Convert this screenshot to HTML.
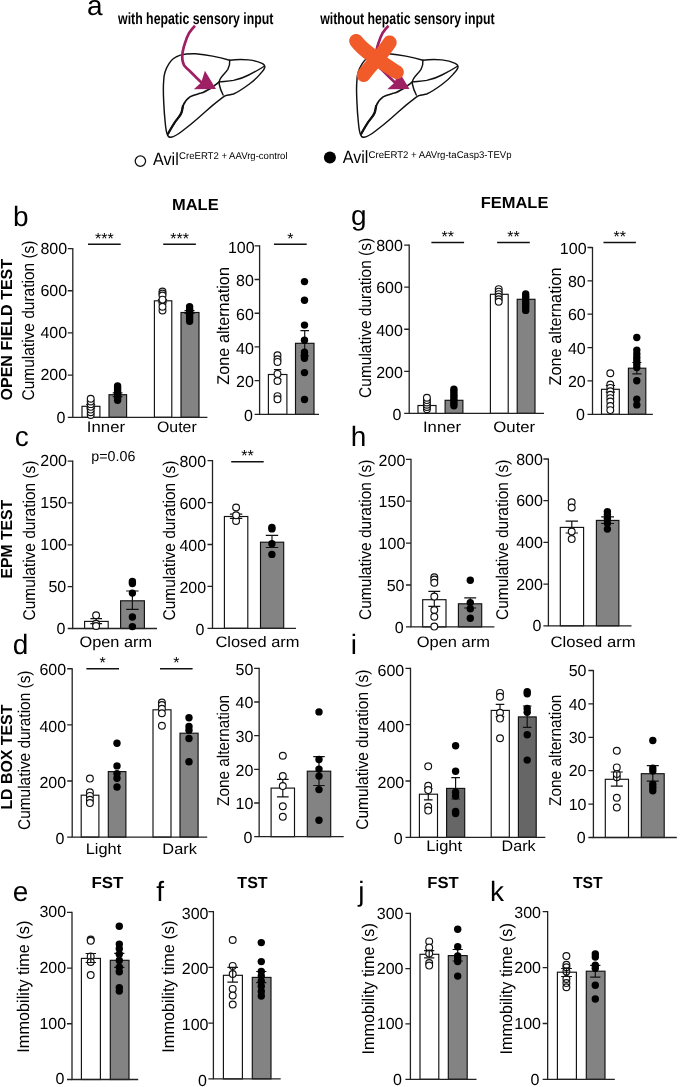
<!DOCTYPE html>
<html lang="en"><head><meta charset="utf-8"><title>Figure</title>
<style>html,body{margin:0;padding:0;background:#fff}svg{display:block}</style></head>
<body>
<svg width="685" height="1087" viewBox="0 0 685 1087" font-family="'Liberation Sans', sans-serif" fill="#000" text-rendering="geometricPrecision">
<rect width="685" height="1087" fill="#fff"/>
<g transform="translate(0 0)" fill="none" stroke="#111" stroke-width="1.45" stroke-linecap="round" stroke-linejoin="round">
<path d="M180.4 55.1C174 57 171 60 169 63.7C165 70 163.7 76 163.7 80.7C163 88 163.4 95 163.7 101.6C164 109 164.5 116 165.2 122.5C165.6 127 166 131 167.1 133.9C168 136.5 169.3 137.5 170.9 137.3C175 136.5 178.5 134 182.3 131C187.5 127 192.5 123 197.4 118.7C202.5 114.3 207.5 109.8 212.6 105.4C216.8 102 221 98.6 225 95.9C228 94.6 231 94.8 233.5 94C239 91.5 244 88 248.7 84.5C253 81.3 257 77.7 260.1 74.1C262.5 71.5 264.5 69 264.8 67.4C265 65.5 264 64.2 262 63.3C257.8 61.5 253.5 60.5 248.7 59.9C242.5 59.3 236 59.4 229.7 60.2C224 58.6 218.3 57.2 212.6 56.1C207 55 201 54.2 195.5 53.8C190.3 53.6 185 54 180.4 55.1Z"/>
<path d="M229.7 60.2C230 63.5 229.3 66.5 227.8 69.3C225.6 72.8 222 75.5 220.2 78.8C219 80.8 218.8 82.6 219.3 84.5C220 88.3 221.5 92 223.1 95"/>
<path d="M219.3 81.9C224 81.4 229 81.2 233.5 80.4C238.7 79.3 244 77.5 248.7 75C254.2 72.3 259.5 69.3 263.9 66.5"/>
<path d="M168 134C170 130 172.5 126 174.7 122.5C177 119 180 116.5 181.3 113C182.5 110.3 182.3 107.5 183.2 105.4C184.5 101.8 187 99 189.9 96.9C193 94.8 197.5 94.2 201.2 93.1C204.6 91.9 207.8 90 210.7 88.3C213.7 86.3 216.5 84 219.3 81.9" stroke-width="1.6"/>
<path d="M168.2 133.6C170 130 172.5 126 174.7 122.5C177 119 180 116.5 181.3 113C182.3 110.5 182.4 108 183 105.8" stroke-width="2.3"/>
</g>
<g transform="translate(0 0)">
<path d="M195 25.7C192.5 28.2 190.5 30.8 188.9 33.3C187.2 36.4 186 39.6 185.1 42.8C184 46 183.1 49.2 182.6 52.3C182.2 55 182.1 57.5 182.4 59.9C182.7 62 183.3 63.9 184.2 65.5C185.8 67.6 187.8 69.4 190 71.3L197 78.3L202.5 83.5" fill="none" stroke="#9e1f63" stroke-width="2.7" stroke-linecap="butt" stroke-linejoin="round"/>
<path d="M216 88.9L204.9 70.7L201.2 82.4L193.8 89.2Z" fill="#9e1f63"/>
</g>
<g transform="translate(193.2 0)" fill="none" stroke="#111" stroke-width="1.45" stroke-linecap="round" stroke-linejoin="round">
<path d="M180.4 55.1C174 57 171 60 169 63.7C165 70 163.7 76 163.7 80.7C163 88 163.4 95 163.7 101.6C164 109 164.5 116 165.2 122.5C165.6 127 166 131 167.1 133.9C168 136.5 169.3 137.5 170.9 137.3C175 136.5 178.5 134 182.3 131C187.5 127 192.5 123 197.4 118.7C202.5 114.3 207.5 109.8 212.6 105.4C216.8 102 221 98.6 225 95.9C228 94.6 231 94.8 233.5 94C239 91.5 244 88 248.7 84.5C253 81.3 257 77.7 260.1 74.1C262.5 71.5 264.5 69 264.8 67.4C265 65.5 264 64.2 262 63.3C257.8 61.5 253.5 60.5 248.7 59.9C242.5 59.3 236 59.4 229.7 60.2C224 58.6 218.3 57.2 212.6 56.1C207 55 201 54.2 195.5 53.8C190.3 53.6 185 54 180.4 55.1Z"/>
<path d="M229.7 60.2C230 63.5 229.3 66.5 227.8 69.3C225.6 72.8 222 75.5 220.2 78.8C219 80.8 218.8 82.6 219.3 84.5C220 88.3 221.5 92 223.1 95"/>
<path d="M219.3 81.9C224 81.4 229 81.2 233.5 80.4C238.7 79.3 244 77.5 248.7 75C254.2 72.3 259.5 69.3 263.9 66.5"/>
<path d="M168 134C170 130 172.5 126 174.7 122.5C177 119 180 116.5 181.3 113C182.5 110.3 182.3 107.5 183.2 105.4C184.5 101.8 187 99 189.9 96.9C193 94.8 197.5 94.2 201.2 93.1C204.6 91.9 207.8 90 210.7 88.3C213.7 86.3 216.5 84 219.3 81.9" stroke-width="1.6"/>
<path d="M168.2 133.6C170 130 172.5 126 174.7 122.5C177 119 180 116.5 181.3 113C182.3 110.5 182.4 108 183 105.8" stroke-width="2.3"/>
</g>
<g transform="translate(193.5 0)">
<path d="M195 25.7C192.5 28.2 190.5 30.8 188.9 33.3C187.2 36.4 186 39.6 185.1 42.8C184 46 183.1 49.2 182.6 52.3C182.2 55 182.1 57.5 182.4 59.9C182.7 62 183.3 63.9 184.2 65.5C185.8 67.6 187.8 69.4 190 71.3L197 78.3L202.5 83.5" fill="none" stroke="#9e1f63" stroke-width="2.7" stroke-linecap="butt" stroke-linejoin="round"/>
<path d="M216 88.9L204.9 70.7L201.2 82.4L193.8 89.2Z" fill="#9e1f63"/>
</g>
<path d="M356.1 40.9C364 52 384 64 396.9 72.2M389.7 42.4C381 56 370 66 363.7 75" fill="none" stroke="#f15a29" stroke-width="14" stroke-linecap="round"/>
<text x="86.9" y="14.8" font-size="28">a</text>
<text x="118.06" y="23.9" font-size="16.3" font-weight="bold" textLength="155.4" lengthAdjust="spacingAndGlyphs">with hepatic sensory input</text>
<text x="320.26" y="23.9" font-size="16.3" font-weight="bold" textLength="174.4" lengthAdjust="spacingAndGlyphs">without hepatic sensory input</text>
<circle cx="140.4" cy="161.1" r="5.2" fill="#fff" stroke="#111" stroke-width="1.3"/>
<text x="153.1" y="164.9" font-size="17.7" textLength="25.7" lengthAdjust="spacingAndGlyphs">Avil</text>
<text x="179.12" y="159.4" font-size="9.8" textLength="108.42" lengthAdjust="spacingAndGlyphs">CreERT2 + AAVrg-control</text>
<circle cx="329.9" cy="157.6" r="6" fill="#000"/>
<text x="342.8" y="163.4" font-size="17.7" textLength="25.6" lengthAdjust="spacingAndGlyphs">Avil</text>
<text x="368.52" y="158.2" font-size="9.8" textLength="143.06" lengthAdjust="spacingAndGlyphs">CreERT2 + AAVrg-taCasp3-TEVp</text>
<text x="172.03" y="209.6" font-size="16" font-weight="bold" textLength="46.6" lengthAdjust="spacingAndGlyphs">MALE</text>
<text x="480.73" y="207.7" font-size="16" font-weight="bold" textLength="67.66" lengthAdjust="spacingAndGlyphs">FEMALE</text>
<text x="13.1" y="225.5" font-size="28">b</text>
<text x="14.7" y="446" font-size="28">c</text>
<text x="12.8" y="653.8" font-size="28">d</text>
<text x="12.7" y="900.8" font-size="28">e</text>
<text x="156.3" y="900.8" font-size="28">f</text>
<text x="350.9" y="225.2" font-size="28">g</text>
<text x="350.7" y="446" font-size="28">h</text>
<text x="350.7" y="653.6" font-size="28">i</text>
<text x="358.2" y="900.5" font-size="28">j</text>
<text x="490" y="900.7" font-size="28">k</text>
<text x="12.2" y="329.7" font-size="16" text-anchor="middle" transform="rotate(-90 12.2 329.7)" textLength="141.6" lengthAdjust="spacingAndGlyphs" font-weight="bold">OPEN FIELD TEST</text>
<text x="12.2" y="539.25" font-size="16" text-anchor="middle" transform="rotate(-90 12.2 539.25)" textLength="78.7" lengthAdjust="spacingAndGlyphs" font-weight="bold">EPM TEST</text>
<text x="12.5" y="757.1" font-size="16" text-anchor="middle" transform="rotate(-90 12.5 757.1)" textLength="105" lengthAdjust="spacingAndGlyphs" font-weight="bold">LD BOX TEST</text>
<rect x="82" y="406.3" width="17.9" height="11" fill="#fff" stroke="#111" stroke-width="1.15"/>
<rect x="109" y="394.7" width="17.6" height="22.6" fill="#838383" stroke="#111" stroke-width="1.15"/>
<rect x="154.4" y="300.8" width="17.4" height="116.5" fill="#fff" stroke="#111" stroke-width="1.15"/>
<rect x="181" y="312.5" width="18" height="104.8" fill="#838383" stroke="#111" stroke-width="1.15"/>
<path d="M90.7 404.5V408M86.2 404.5H95.2M86.2 408H95.2" stroke="#111" stroke-width="1.2" fill="none"/>
<path d="M117.6 392.8V396.6M112.75 392.8H122.45M112.75 396.6H122.45" stroke="#111" stroke-width="1.2" fill="none"/>
<path d="M162.5 299.5V302M157.9 299.5H167.1M157.9 302H167.1" stroke="#111" stroke-width="1.2" fill="none"/>
<path d="M189.5 310.7V313.5M184.5 310.7H194.5M184.5 313.5H194.5" stroke="#111" stroke-width="1.2" fill="none"/>
<path d="M72.8 248V417.3H207.4" stroke="#222" stroke-width="1.3" fill="none"/>
<text x="67.1" y="253.8" font-size="16" text-anchor="end">800</text>
<text x="67.1" y="295.97" font-size="16" text-anchor="end">600</text>
<text x="67.1" y="338.15" font-size="16" text-anchor="end">400</text>
<text x="67.1" y="380.32" font-size="16" text-anchor="end">200</text>
<text x="65.5" y="422.5" font-size="16" text-anchor="end">0</text>
<path d="M67.8 248.6H72.8M67.8 290.77H72.8M67.8 332.95H72.8M67.8 375.12H72.8M67.8 417.3H72.8" stroke="#222" stroke-width="1.3" fill="none"/>
<circle cx="90.7" cy="415" r="3.4" fill="#fff" stroke="#111" stroke-width="1.15"/>
<circle cx="90.7" cy="412.28" r="3.4" fill="#fff" stroke="#111" stroke-width="1.15"/>
<circle cx="90.7" cy="409.57" r="3.4" fill="#fff" stroke="#111" stroke-width="1.15"/>
<circle cx="90.7" cy="406.85" r="3.4" fill="#fff" stroke="#111" stroke-width="1.15"/>
<circle cx="90.7" cy="404.13" r="3.4" fill="#fff" stroke="#111" stroke-width="1.15"/>
<circle cx="90.7" cy="401.42" r="3.4" fill="#fff" stroke="#111" stroke-width="1.15"/>
<circle cx="90.7" cy="398.7" r="3.4" fill="#fff" stroke="#111" stroke-width="1.15"/>
<circle cx="162.5" cy="291.5" r="3.4" fill="#fff" stroke="#111" stroke-width="1.15"/>
<circle cx="162.5" cy="293.5" r="3.4" fill="#fff" stroke="#111" stroke-width="1.15"/>
<circle cx="162.5" cy="295.5" r="3.4" fill="#fff" stroke="#111" stroke-width="1.15"/>
<circle cx="162.5" cy="310.5" r="3.4" fill="#fff" stroke="#111" stroke-width="1.15"/>
<circle cx="162.5" cy="303" r="3.4" fill="#fff" stroke="#111" stroke-width="1.15"/>
<circle cx="162.5" cy="306.8" r="3.4" fill="#fff" stroke="#111" stroke-width="1.15"/>
<circle cx="162.5" cy="299.6" r="3.4" fill="#fff" stroke="#111" stroke-width="1.15"/>
<circle cx="117.6" cy="386" r="3.7" fill="#000"/>
<circle cx="117.6" cy="388.03" r="3.7" fill="#000"/>
<circle cx="117.6" cy="390.06" r="3.7" fill="#000"/>
<circle cx="117.6" cy="392.09" r="3.7" fill="#000"/>
<circle cx="117.6" cy="394.11" r="3.7" fill="#000"/>
<circle cx="117.6" cy="396.14" r="3.7" fill="#000"/>
<circle cx="117.6" cy="398.17" r="3.7" fill="#000"/>
<circle cx="117.6" cy="400.2" r="3.7" fill="#000"/>
<circle cx="189.6" cy="306.6" r="3.7" fill="#000"/>
<circle cx="189.6" cy="308.69" r="3.7" fill="#000"/>
<circle cx="189.6" cy="310.77" r="3.7" fill="#000"/>
<circle cx="189.6" cy="312.86" r="3.7" fill="#000"/>
<circle cx="189.6" cy="314.94" r="3.7" fill="#000"/>
<circle cx="189.6" cy="317.03" r="3.7" fill="#000"/>
<circle cx="189.6" cy="319.11" r="3.7" fill="#000"/>
<circle cx="189.6" cy="321.2" r="3.7" fill="#000"/>
<path d="M88 244.2H120.7" stroke="#111" stroke-width="1.5"/>
<text x="104.35" y="243.6" font-size="16" text-anchor="middle">***</text>
<path d="M163.2 244.2H195.9" stroke="#111" stroke-width="1.5"/>
<text x="179.55" y="243.6" font-size="16" text-anchor="middle">***</text>
<text x="34.1" y="320.5" font-size="17" text-anchor="middle" transform="rotate(-90 34.1 320.5)" textLength="160" lengthAdjust="spacingAndGlyphs">Cumulative duration (s)</text>
<text x="86.89" y="432" font-size="15.2" textLength="38.15" lengthAdjust="spacingAndGlyphs">Inner</text>
<text x="156.99" y="432" font-size="15.2" textLength="39.69" lengthAdjust="spacingAndGlyphs">Outer</text>
<rect x="268.4" y="374.5" width="18.5" height="39.9" fill="#fff" stroke="#111" stroke-width="1.15"/>
<rect x="295.5" y="343.3" width="18.5" height="71.1" fill="#838383" stroke="#111" stroke-width="1.15"/>
<path d="M277.6 369.6V379.4M273.9 369.6H281.3M273.9 379.4H281.3" stroke="#111" stroke-width="1.2" fill="none"/>
<path d="M304.7 330.6V356M300.4 330.6H309M300.4 356H309" stroke="#111" stroke-width="1.2" fill="none"/>
<path d="M259.6 245.2V414.4H319" stroke="#222" stroke-width="1.3" fill="none"/>
<text x="254.6" y="252.6" font-size="16" text-anchor="end">100</text>
<text x="253.8" y="286.32" font-size="16" text-anchor="end">80</text>
<text x="253.8" y="320.04" font-size="16" text-anchor="end">60</text>
<text x="253.8" y="353.76" font-size="16" text-anchor="end">40</text>
<text x="253.8" y="387.48" font-size="16" text-anchor="end">20</text>
<text x="253" y="421.2" font-size="16" text-anchor="end">0</text>
<path d="M254.6 245.8H259.6M254.6 279.52H259.6M254.6 313.24H259.6M254.6 346.96H259.6M254.6 380.68H259.6M254.6 414.4H259.6" stroke="#222" stroke-width="1.3" fill="none"/>
<circle cx="277.5" cy="355.3" r="3.4" fill="#fff" stroke="#111" stroke-width="1.15"/>
<circle cx="277.5" cy="359.3" r="3.4" fill="#fff" stroke="#111" stroke-width="1.15"/>
<circle cx="277.5" cy="361.9" r="3.4" fill="#fff" stroke="#111" stroke-width="1.15"/>
<circle cx="277.5" cy="373.9" r="3.4" fill="#fff" stroke="#111" stroke-width="1.15"/>
<circle cx="277.5" cy="381" r="3.4" fill="#fff" stroke="#111" stroke-width="1.15"/>
<circle cx="277.5" cy="396.1" r="3.4" fill="#fff" stroke="#111" stroke-width="1.15"/>
<circle cx="277.5" cy="399.2" r="3.4" fill="#fff" stroke="#111" stroke-width="1.15"/>
<circle cx="304.5" cy="281.6" r="3.7" fill="#000"/>
<circle cx="304.5" cy="300.2" r="3.7" fill="#000"/>
<circle cx="304.5" cy="325.1" r="3.7" fill="#000"/>
<circle cx="304.5" cy="340.2" r="3.7" fill="#000"/>
<circle cx="304.5" cy="352.2" r="3.7" fill="#000"/>
<circle cx="304.5" cy="355.3" r="3.7" fill="#000"/>
<circle cx="304.5" cy="358.3" r="3.7" fill="#000"/>
<circle cx="304.5" cy="372.6" r="3.7" fill="#000"/>
<circle cx="304.5" cy="399.5" r="3.7" fill="#000"/>
<path d="M274 244.2H306.7" stroke="#111" stroke-width="1.5"/>
<text x="290.35" y="243.6" font-size="16" text-anchor="middle">*</text>
<text x="229.1" y="325.85" font-size="17" text-anchor="middle" transform="rotate(-90 229.1 325.85)" textLength="117.7" lengthAdjust="spacingAndGlyphs">Zone alternation</text>
<rect x="84.6" y="621.4" width="23.6" height="7.1" fill="#fff" stroke="#111" stroke-width="1.15"/>
<rect x="120.6" y="600.8" width="23.8" height="27.7" fill="#838383" stroke="#111" stroke-width="1.15"/>
<path d="M96.2 618.7V623.6M90.35 618.7H102.05M90.35 623.6H102.05" stroke="#111" stroke-width="1.2" fill="none"/>
<path d="M132.4 591V609.3M126.2 591H138.6M126.2 609.3H138.6" stroke="#111" stroke-width="1.2" fill="none"/>
<path d="M72.7 460.5V628.5H157" stroke="#222" stroke-width="1.3" fill="none"/>
<text x="67" y="466.3" font-size="16" text-anchor="end">200</text>
<text x="67" y="508.15" font-size="16" text-anchor="end">150</text>
<text x="67" y="550" font-size="16" text-anchor="end">100</text>
<text x="66.2" y="591.85" font-size="16" text-anchor="end">50</text>
<text x="65.4" y="633.7" font-size="16" text-anchor="end">0</text>
<path d="M67.7 461.1H72.7M67.7 502.95H72.7M67.7 544.8H72.7M67.7 586.65H72.7M67.7 628.5H72.7" stroke="#222" stroke-width="1.3" fill="none"/>
<circle cx="96.1" cy="615.2" r="3.4" fill="#fff" stroke="#111" stroke-width="1.15"/>
<circle cx="96.1" cy="623.7" r="3.4" fill="#fff" stroke="#111" stroke-width="1.15"/>
<circle cx="96.1" cy="626" r="3.4" fill="#fff" stroke="#111" stroke-width="1.15"/>
<circle cx="132.4" cy="581.5" r="3.7" fill="#000"/>
<circle cx="132.4" cy="583.5" r="3.7" fill="#000"/>
<circle cx="132.4" cy="593.1" r="3.7" fill="#000"/>
<circle cx="132.4" cy="617" r="3.7" fill="#000"/>
<circle cx="132.4" cy="626.6" r="3.7" fill="#000"/>
<text x="34.5" y="540.5" font-size="17" text-anchor="middle" transform="rotate(-90 34.5 540.5)" textLength="160" lengthAdjust="spacingAndGlyphs">Cumulative duration (s)</text>
<text x="79.47" y="647.2" font-size="15.2" textLength="72.54" lengthAdjust="spacingAndGlyphs">Open arm</text>
<text x="91.37" y="461.2" font-size="14.2" textLength="44.02" lengthAdjust="spacingAndGlyphs">p=0.06</text>
<rect x="224.4" y="516.5" width="23.4" height="111.8" fill="#fff" stroke="#111" stroke-width="1.15"/>
<rect x="260.5" y="542.2" width="23.2" height="86.1" fill="#838383" stroke="#111" stroke-width="1.15"/>
<path d="M236.1 514.2V518.4M229.9 514.2H242.3M229.9 518.4H242.3" stroke="#111" stroke-width="1.2" fill="none"/>
<path d="M272 535.3V547.5M265.8 535.3H278.2M265.8 547.5H278.2" stroke="#111" stroke-width="1.2" fill="none"/>
<path d="M212.5 460.1V628.3H296" stroke="#222" stroke-width="1.3" fill="none"/>
<text x="206.1" y="467.4" font-size="16" text-anchor="end">800</text>
<text x="206.1" y="509.3" font-size="16" text-anchor="end">600</text>
<text x="206.1" y="551.2" font-size="16" text-anchor="end">400</text>
<text x="206.1" y="593.1" font-size="16" text-anchor="end">200</text>
<text x="204.5" y="635" font-size="16" text-anchor="end">0</text>
<path d="M207.5 460.7H212.5M207.5 502.6H212.5M207.5 544.5H212.5M207.5 586.4H212.5M207.5 628.3H212.5" stroke="#222" stroke-width="1.3" fill="none"/>
<circle cx="236.1" cy="507.5" r="3.4" fill="#fff" stroke="#111" stroke-width="1.15"/>
<circle cx="236.1" cy="521" r="3.4" fill="#fff" stroke="#111" stroke-width="1.15"/>
<circle cx="236.1" cy="515.2" r="3.4" fill="#fff" stroke="#111" stroke-width="1.15"/>
<circle cx="271.9" cy="527.4" r="3.7" fill="#000"/>
<circle cx="271.9" cy="528.9" r="3.7" fill="#000"/>
<circle cx="271.9" cy="543.7" r="3.7" fill="#000"/>
<circle cx="271.9" cy="554.4" r="3.7" fill="#000"/>
<path d="M231.2 461.8H263.7" stroke="#111" stroke-width="1.5"/>
<text x="247.45" y="461.2" font-size="16" text-anchor="middle">**</text>
<text x="175" y="540.5" font-size="17" text-anchor="middle" transform="rotate(-90 175 540.5)" textLength="160" lengthAdjust="spacingAndGlyphs">Cumulative duration (s)</text>
<text x="215.48" y="647.2" font-size="15.2" textLength="83.95" lengthAdjust="spacingAndGlyphs">Closed arm</text>
<rect x="81.2" y="795.2" width="17.7" height="41.9" fill="#fff" stroke="#111" stroke-width="1.15"/>
<rect x="108.3" y="771.6" width="17.6" height="65.5" fill="#838383" stroke="#111" stroke-width="1.15"/>
<rect x="153" y="709.8" width="18" height="127.3" fill="#fff" stroke="#111" stroke-width="1.15"/>
<rect x="180" y="733.2" width="18.1" height="103.9" fill="#838383" stroke="#111" stroke-width="1.15"/>
<path d="M72.2 668.15V837.1H207.2" stroke="#222" stroke-width="1.3" fill="none"/>
<text x="66.1" y="675.45" font-size="16" text-anchor="end">600</text>
<text x="66.1" y="731.57" font-size="16" text-anchor="end">400</text>
<text x="66.1" y="787.68" font-size="16" text-anchor="end">200</text>
<text x="64.5" y="843.8" font-size="16" text-anchor="end">0</text>
<path d="M67.2 668.75H72.2M67.2 724.87H72.2M67.2 780.98H72.2M67.2 837.1H72.2" stroke="#222" stroke-width="1.3" fill="none"/>
<circle cx="89.9" cy="778.6" r="3.4" fill="#fff" stroke="#111" stroke-width="1.15"/>
<circle cx="89.9" cy="792.2" r="3.4" fill="#fff" stroke="#111" stroke-width="1.15"/>
<circle cx="89.9" cy="795.9" r="3.4" fill="#fff" stroke="#111" stroke-width="1.15"/>
<circle cx="89.9" cy="799.7" r="3.4" fill="#fff" stroke="#111" stroke-width="1.15"/>
<circle cx="89.9" cy="803.1" r="3.4" fill="#fff" stroke="#111" stroke-width="1.15"/>
<circle cx="161.9" cy="702.6" r="3.4" fill="#fff" stroke="#111" stroke-width="1.15"/>
<circle cx="161.9" cy="705.1" r="3.4" fill="#fff" stroke="#111" stroke-width="1.15"/>
<circle cx="161.9" cy="708.8" r="3.4" fill="#fff" stroke="#111" stroke-width="1.15"/>
<circle cx="161.9" cy="713.3" r="3.4" fill="#fff" stroke="#111" stroke-width="1.15"/>
<circle cx="161.9" cy="725.7" r="3.4" fill="#fff" stroke="#111" stroke-width="1.15"/>
<circle cx="117" cy="743.3" r="3.7" fill="#000"/>
<circle cx="117" cy="765.9" r="3.7" fill="#000"/>
<circle cx="117" cy="773.6" r="3.7" fill="#000"/>
<circle cx="117" cy="778.3" r="3.7" fill="#000"/>
<circle cx="117" cy="787" r="3.7" fill="#000"/>
<circle cx="189" cy="717.7" r="3.7" fill="#000"/>
<circle cx="189" cy="726.5" r="3.7" fill="#000"/>
<circle cx="189" cy="730.3" r="3.7" fill="#000"/>
<circle cx="189" cy="738.5" r="3.7" fill="#000"/>
<circle cx="189" cy="761.8" r="3.7" fill="#000"/>
<path d="M86.4 668.7H119" stroke="#111" stroke-width="1.5"/>
<text x="102.7" y="668.1" font-size="16" text-anchor="middle">*</text>
<path d="M160 668.7H192.6" stroke="#111" stroke-width="1.5"/>
<text x="176.3" y="668.1" font-size="16" text-anchor="middle">*</text>
<text x="29.7" y="750.25" font-size="17" text-anchor="middle" transform="rotate(-90 29.7 750.25)" textLength="159.5" lengthAdjust="spacingAndGlyphs">Cumulative duration (s)</text>
<text x="85.69" y="853.6" font-size="15.2" textLength="35.55" lengthAdjust="spacingAndGlyphs">Light</text>
<text x="162.39" y="853.6" font-size="15.2" textLength="34.53" lengthAdjust="spacingAndGlyphs">Dark</text>
<rect x="271.1" y="788.1" width="23.4" height="48.6" fill="#fff" stroke="#111" stroke-width="1.15"/>
<rect x="307.3" y="771.2" width="23.4" height="65.5" fill="#838383" stroke="#111" stroke-width="1.15"/>
<path d="M282.8 779.3V796.9M276.95 779.3H288.65M276.95 796.9H288.65" stroke="#111" stroke-width="1.2" fill="none"/>
<path d="M319 756.6V785.5M313.25 756.6H324.75M313.25 785.5H324.75" stroke="#111" stroke-width="1.2" fill="none"/>
<path d="M259.15 667.7V836.7H343.7" stroke="#222" stroke-width="1.3" fill="none"/>
<text x="253.3" y="674.6" font-size="16" text-anchor="end">50</text>
<text x="253.3" y="708.28" font-size="16" text-anchor="end">40</text>
<text x="253.3" y="741.96" font-size="16" text-anchor="end">30</text>
<text x="253.3" y="775.64" font-size="16" text-anchor="end">20</text>
<text x="253.3" y="809.32" font-size="16" text-anchor="end">10</text>
<text x="252.5" y="843" font-size="16" text-anchor="end">0</text>
<path d="M254.15 668.3H259.15M254.15 701.98H259.15M254.15 735.66H259.15M254.15 769.34H259.15M254.15 803.02H259.15M254.15 836.7H259.15" stroke="#222" stroke-width="1.3" fill="none"/>
<circle cx="282.8" cy="755.7" r="3.4" fill="#fff" stroke="#111" stroke-width="1.15"/>
<circle cx="282.8" cy="776.1" r="3.4" fill="#fff" stroke="#111" stroke-width="1.15"/>
<circle cx="282.8" cy="786.1" r="3.4" fill="#fff" stroke="#111" stroke-width="1.15"/>
<circle cx="282.8" cy="806.2" r="3.4" fill="#fff" stroke="#111" stroke-width="1.15"/>
<circle cx="282.8" cy="816.7" r="3.4" fill="#fff" stroke="#111" stroke-width="1.15"/>
<circle cx="319" cy="711.9" r="3.7" fill="#000"/>
<circle cx="319" cy="759.5" r="3.7" fill="#000"/>
<circle cx="319" cy="769.1" r="3.7" fill="#000"/>
<circle cx="319" cy="776.1" r="3.7" fill="#000"/>
<circle cx="319" cy="789.6" r="3.7" fill="#000"/>
<circle cx="319" cy="820.2" r="3.7" fill="#000"/>
<text x="229.1" y="750.5" font-size="17" text-anchor="middle" transform="rotate(-90 229.1 750.5)" textLength="111" lengthAdjust="spacingAndGlyphs">Zone alternation</text>
<rect x="81.4" y="958.4" width="19" height="121.1" fill="#fff" stroke="#111" stroke-width="1.15"/>
<rect x="110.3" y="960.3" width="18.7" height="119.2" fill="#838383" stroke="#111" stroke-width="1.15"/>
<path d="M72 911.7V1079.5H138.2" stroke="#222" stroke-width="1.3" fill="none"/>
<text x="66.1" y="917.1" font-size="16" text-anchor="end">300</text>
<text x="66.1" y="972.83" font-size="16" text-anchor="end">200</text>
<text x="66.1" y="1028.57" font-size="16" text-anchor="end">100</text>
<text x="64.5" y="1084.3" font-size="16" text-anchor="end">0</text>
<path d="M67 912.3H72M67 968.03H72M67 1023.77H72M67 1079.5H72" stroke="#222" stroke-width="1.3" fill="none"/>
<circle cx="90.7" cy="939.5" r="3.4" fill="#fff" stroke="#111" stroke-width="1.15"/>
<circle cx="90.7" cy="940.8" r="3.4" fill="#fff" stroke="#111" stroke-width="1.15"/>
<circle cx="90.7" cy="956.4" r="3.4" fill="#fff" stroke="#111" stroke-width="1.15"/>
<circle cx="90.7" cy="962" r="3.4" fill="#fff" stroke="#111" stroke-width="1.15"/>
<circle cx="90.7" cy="975.1" r="3.4" fill="#fff" stroke="#111" stroke-width="1.15"/>
<path d="M90.8 953.5V962.5M85.6 953.5H96M85.6 962.5H96" stroke="#111" stroke-width="1.2" fill="none"/>
<path d="M119.3 953.3V967.3M114.2 953.3H124.4M114.2 967.3H124.4" stroke="#111" stroke-width="1.2" fill="none"/>
<circle cx="119.3" cy="926.2" r="3.7" fill="#000"/>
<circle cx="119.3" cy="944.1" r="3.7" fill="#000"/>
<circle cx="119.3" cy="948.7" r="3.7" fill="#000"/>
<circle cx="119.3" cy="954.3" r="3.7" fill="#000"/>
<circle cx="119.3" cy="960.5" r="3.7" fill="#000"/>
<circle cx="119.3" cy="967.1" r="3.7" fill="#000"/>
<circle cx="119.3" cy="971.7" r="3.7" fill="#000"/>
<circle cx="119.3" cy="987.6" r="3.7" fill="#000"/>
<circle cx="119.3" cy="991.1" r="3.7" fill="#000"/>
<text x="28.9" y="986.65" font-size="17" text-anchor="middle" transform="rotate(-90 28.9 986.65)" textLength="132.1" lengthAdjust="spacingAndGlyphs">Immobility time (s)</text>
<text x="91.4" y="888.1" font-size="16" font-weight="bold" textLength="31.84" lengthAdjust="spacingAndGlyphs">FST</text>
<rect x="223.4" y="975.3" width="19" height="103.6" fill="#fff" stroke="#111" stroke-width="1.15"/>
<rect x="252.3" y="977.4" width="18.7" height="101.5" fill="#838383" stroke="#111" stroke-width="1.15"/>
<path d="M213.4 911V1078.9H280.7" stroke="#222" stroke-width="1.3" fill="none"/>
<text x="208.5" y="918.6" font-size="16" text-anchor="end">300</text>
<text x="208.5" y="974.37" font-size="16" text-anchor="end">200</text>
<text x="208.5" y="1030.13" font-size="16" text-anchor="end">100</text>
<text x="206.9" y="1085.9" font-size="16" text-anchor="end">0</text>
<path d="M208.4 911.6H213.4M208.4 967.37H213.4M208.4 1023.13H213.4M208.4 1078.9H213.4" stroke="#222" stroke-width="1.3" fill="none"/>
<circle cx="232.7" cy="940" r="3.4" fill="#fff" stroke="#111" stroke-width="1.15"/>
<circle cx="232.7" cy="965.9" r="3.4" fill="#fff" stroke="#111" stroke-width="1.15"/>
<circle cx="232.7" cy="974" r="3.4" fill="#fff" stroke="#111" stroke-width="1.15"/>
<circle cx="232.7" cy="988.9" r="3.4" fill="#fff" stroke="#111" stroke-width="1.15"/>
<circle cx="232.7" cy="995.5" r="3.4" fill="#fff" stroke="#111" stroke-width="1.15"/>
<circle cx="232.7" cy="1004.5" r="3.4" fill="#fff" stroke="#111" stroke-width="1.15"/>
<path d="M232.7 967.4V982.2M227.4 967.4H238M227.4 982.2H238" stroke="#111" stroke-width="1.2" fill="none"/>
<path d="M261.3 971.5V982.7M256.2 971.5H266.4M256.2 982.7H266.4" stroke="#111" stroke-width="1.2" fill="none"/>
<circle cx="261.3" cy="942.6" r="3.7" fill="#000"/>
<circle cx="261.3" cy="961.6" r="3.7" fill="#000"/>
<circle cx="261.3" cy="971.5" r="3.7" fill="#000"/>
<circle cx="261.3" cy="976.1" r="3.7" fill="#000"/>
<circle cx="261.3" cy="981.2" r="3.7" fill="#000"/>
<circle cx="261.3" cy="986.3" r="3.7" fill="#000"/>
<circle cx="261.3" cy="991.4" r="3.7" fill="#000"/>
<circle cx="261.3" cy="996" r="3.7" fill="#000"/>
<text x="173.6" y="986.65" font-size="17" text-anchor="middle" transform="rotate(-90 173.6 986.65)" textLength="132.1" lengthAdjust="spacingAndGlyphs">Immobility time (s)</text>
<text x="237.34" y="888.1" font-size="16" font-weight="bold" textLength="30.3" lengthAdjust="spacingAndGlyphs">TST</text>
<rect x="418" y="405.5" width="18" height="7.9" fill="#fff" stroke="#111" stroke-width="1.15"/>
<rect x="445.1" y="400.3" width="17.8" height="13.1" fill="#838383" stroke="#111" stroke-width="1.15"/>
<rect x="490.4" y="294.3" width="17.8" height="119.1" fill="#fff" stroke="#111" stroke-width="1.15"/>
<rect x="517.2" y="299.3" width="17.8" height="114.1" fill="#838383" stroke="#111" stroke-width="1.15"/>
<path d="M409.2 244.5V413.4H544" stroke="#222" stroke-width="1.3" fill="none"/>
<text x="402.9" y="251.4" font-size="16" text-anchor="end">800</text>
<text x="402.9" y="293.48" font-size="16" text-anchor="end">600</text>
<text x="402.9" y="335.55" font-size="16" text-anchor="end">400</text>
<text x="402.9" y="377.62" font-size="16" text-anchor="end">200</text>
<text x="401.3" y="419.7" font-size="16" text-anchor="end">0</text>
<path d="M404.2 245.1H409.2M404.2 287.18H409.2M404.2 329.25H409.2M404.2 371.32H409.2M404.2 413.4H409.2" stroke="#222" stroke-width="1.3" fill="none"/>
<circle cx="426.9" cy="409.3" r="3.4" fill="#fff" stroke="#111" stroke-width="1.15"/>
<circle cx="426.9" cy="407" r="3.4" fill="#fff" stroke="#111" stroke-width="1.15"/>
<circle cx="426.9" cy="404.7" r="3.4" fill="#fff" stroke="#111" stroke-width="1.15"/>
<circle cx="426.9" cy="402.4" r="3.4" fill="#fff" stroke="#111" stroke-width="1.15"/>
<circle cx="426.9" cy="400.1" r="3.4" fill="#fff" stroke="#111" stroke-width="1.15"/>
<circle cx="426.9" cy="397.8" r="3.4" fill="#fff" stroke="#111" stroke-width="1.15"/>
<circle cx="498.7" cy="289.1" r="3.4" fill="#fff" stroke="#111" stroke-width="1.15"/>
<circle cx="498.7" cy="291.64" r="3.4" fill="#fff" stroke="#111" stroke-width="1.15"/>
<circle cx="498.7" cy="294.18" r="3.4" fill="#fff" stroke="#111" stroke-width="1.15"/>
<circle cx="498.7" cy="296.72" r="3.4" fill="#fff" stroke="#111" stroke-width="1.15"/>
<circle cx="498.7" cy="299.26" r="3.4" fill="#fff" stroke="#111" stroke-width="1.15"/>
<circle cx="498.7" cy="301.8" r="3.4" fill="#fff" stroke="#111" stroke-width="1.15"/>
<circle cx="453.9" cy="389.2" r="3.7" fill="#000"/>
<circle cx="453.9" cy="391.57" r="3.7" fill="#000"/>
<circle cx="453.9" cy="393.94" r="3.7" fill="#000"/>
<circle cx="453.9" cy="396.31" r="3.7" fill="#000"/>
<circle cx="453.9" cy="398.69" r="3.7" fill="#000"/>
<circle cx="453.9" cy="401.06" r="3.7" fill="#000"/>
<circle cx="453.9" cy="403.43" r="3.7" fill="#000"/>
<circle cx="453.9" cy="405.8" r="3.7" fill="#000"/>
<circle cx="525.7" cy="294" r="3.7" fill="#000"/>
<circle cx="525.7" cy="296.34" r="3.7" fill="#000"/>
<circle cx="525.7" cy="298.69" r="3.7" fill="#000"/>
<circle cx="525.7" cy="301.03" r="3.7" fill="#000"/>
<circle cx="525.7" cy="303.37" r="3.7" fill="#000"/>
<circle cx="525.7" cy="305.71" r="3.7" fill="#000"/>
<circle cx="525.7" cy="308.06" r="3.7" fill="#000"/>
<circle cx="525.7" cy="310.4" r="3.7" fill="#000"/>
<path d="M431.4 242.6H464.1" stroke="#111" stroke-width="1.5"/>
<text x="447.75" y="242" font-size="16" text-anchor="middle">**</text>
<path d="M497.1 242.6H529.8" stroke="#111" stroke-width="1.5"/>
<text x="513.45" y="242" font-size="16" text-anchor="middle">**</text>
<text x="371" y="317.9" font-size="17" text-anchor="middle" transform="rotate(-90 371 317.9)" textLength="160" lengthAdjust="spacingAndGlyphs">Cumulative duration (s)</text>
<text x="423" y="432.3" font-size="15.2" textLength="37.94" lengthAdjust="spacingAndGlyphs">Inner</text>
<text x="493.35" y="432.3" font-size="15.2" textLength="41.84" lengthAdjust="spacingAndGlyphs">Outer</text>
<rect x="601.5" y="389.3" width="17.8" height="25" fill="#fff" stroke="#111" stroke-width="1.15"/>
<rect x="628.4" y="368.2" width="17.4" height="46.1" fill="#838383" stroke="#111" stroke-width="1.15"/>
<path d="M610.4 385.5V392.1M605.8 385.5H615M605.8 392.1H615" stroke="#111" stroke-width="1.2" fill="none"/>
<path d="M636.9 362.5V373.8M632.35 362.5H641.45M632.35 373.8H641.45" stroke="#111" stroke-width="1.2" fill="none"/>
<path d="M592.5 246.9V414.3H652.9" stroke="#222" stroke-width="1.3" fill="none"/>
<text x="586.55" y="253.55" font-size="16" text-anchor="end">100</text>
<text x="585.75" y="286.91" font-size="16" text-anchor="end">80</text>
<text x="585.75" y="320.27" font-size="16" text-anchor="end">60</text>
<text x="585.75" y="353.63" font-size="16" text-anchor="end">40</text>
<text x="585.75" y="386.99" font-size="16" text-anchor="end">20</text>
<text x="584.95" y="420.35" font-size="16" text-anchor="end">0</text>
<path d="M587.5 247.5H592.5M587.5 280.86H592.5M587.5 314.22H592.5M587.5 347.58H592.5M587.5 380.94H592.5M587.5 414.3H592.5" stroke="#222" stroke-width="1.3" fill="none"/>
<circle cx="610.3" cy="373.2" r="3.4" fill="#fff" stroke="#111" stroke-width="1.15"/>
<circle cx="610.3" cy="384.5" r="3.4" fill="#fff" stroke="#111" stroke-width="1.15"/>
<circle cx="610.3" cy="387.9" r="3.4" fill="#fff" stroke="#111" stroke-width="1.15"/>
<circle cx="610.3" cy="391.3" r="3.4" fill="#fff" stroke="#111" stroke-width="1.15"/>
<circle cx="610.3" cy="394.7" r="3.4" fill="#fff" stroke="#111" stroke-width="1.15"/>
<circle cx="610.3" cy="398.1" r="3.4" fill="#fff" stroke="#111" stroke-width="1.15"/>
<circle cx="610.3" cy="401.5" r="3.4" fill="#fff" stroke="#111" stroke-width="1.15"/>
<circle cx="610.3" cy="406" r="3.4" fill="#fff" stroke="#111" stroke-width="1.15"/>
<circle cx="610.3" cy="410.1" r="3.4" fill="#fff" stroke="#111" stroke-width="1.15"/>
<circle cx="636.8" cy="337.5" r="3.7" fill="#000"/>
<circle cx="636.8" cy="350.1" r="3.7" fill="#000"/>
<circle cx="636.8" cy="354" r="3.7" fill="#000"/>
<circle cx="636.8" cy="357.4" r="3.7" fill="#000"/>
<circle cx="636.8" cy="360.8" r="3.7" fill="#000"/>
<circle cx="636.8" cy="364.2" r="3.7" fill="#000"/>
<circle cx="636.8" cy="367.6" r="3.7" fill="#000"/>
<circle cx="636.8" cy="380.7" r="3.7" fill="#000"/>
<circle cx="636.8" cy="399.2" r="3.7" fill="#000"/>
<circle cx="636.8" cy="404.9" r="3.7" fill="#000"/>
<path d="M603.5 242.4H635.9" stroke="#111" stroke-width="1.5"/>
<text x="619.7" y="241.8" font-size="16" text-anchor="middle">**</text>
<text x="561.3" y="326.55" font-size="17" text-anchor="middle" transform="rotate(-90 561.3 326.55)" textLength="118.1" lengthAdjust="spacingAndGlyphs">Zone alternation</text>
<rect x="422.7" y="599.7" width="23.3" height="27.2" fill="#fff" stroke="#111" stroke-width="1.15"/>
<rect x="458.4" y="603.8" width="23.3" height="23.1" fill="#838383" stroke="#111" stroke-width="1.15"/>
<path d="M434.3 591.4V606.3M428.35 591.4H440.25M428.35 606.3H440.25" stroke="#111" stroke-width="1.2" fill="none"/>
<path d="M470.2 597.9V608M464.25 597.9H476.15M464.25 608H476.15" stroke="#111" stroke-width="1.2" fill="none"/>
<path d="M411 458.7V626.9H494.4" stroke="#222" stroke-width="1.3" fill="none"/>
<text x="405.3" y="465.5" font-size="16" text-anchor="end">200</text>
<text x="405.3" y="507.4" font-size="16" text-anchor="end">150</text>
<text x="405.3" y="549.3" font-size="16" text-anchor="end">100</text>
<text x="404.5" y="591.2" font-size="16" text-anchor="end">50</text>
<text x="403.7" y="633.1" font-size="16" text-anchor="end">0</text>
<path d="M406 459.3H411M406 501.2H411M406 543.1H411M406 585H411M406 626.9H411" stroke="#222" stroke-width="1.3" fill="none"/>
<circle cx="434.3" cy="577.3" r="3.4" fill="#fff" stroke="#111" stroke-width="1.15"/>
<circle cx="434.3" cy="579.5" r="3.4" fill="#fff" stroke="#111" stroke-width="1.15"/>
<circle cx="434.3" cy="582.7" r="3.4" fill="#fff" stroke="#111" stroke-width="1.15"/>
<circle cx="434.3" cy="596.6" r="3.4" fill="#fff" stroke="#111" stroke-width="1.15"/>
<circle cx="434.3" cy="610" r="3.4" fill="#fff" stroke="#111" stroke-width="1.15"/>
<circle cx="434.3" cy="616.7" r="3.4" fill="#fff" stroke="#111" stroke-width="1.15"/>
<circle cx="434.3" cy="626.6" r="3.4" fill="#fff" stroke="#111" stroke-width="1.15"/>
<circle cx="470.3" cy="580.2" r="3.7" fill="#000"/>
<circle cx="470.3" cy="602.6" r="3.7" fill="#000"/>
<circle cx="470.3" cy="608.8" r="3.7" fill="#000"/>
<circle cx="470.3" cy="618.2" r="3.7" fill="#000"/>
<text x="371" y="539.8" font-size="17" text-anchor="middle" transform="rotate(-90 371 539.8)" textLength="160.4" lengthAdjust="spacingAndGlyphs">Cumulative duration (s)</text>
<text x="416.66" y="647.2" font-size="15.2" textLength="73.25" lengthAdjust="spacingAndGlyphs">Open arm</text>
<rect x="560.3" y="527.4" width="23.3" height="98.4" fill="#fff" stroke="#111" stroke-width="1.15"/>
<rect x="596.4" y="520.4" width="22.5" height="105.4" fill="#838383" stroke="#111" stroke-width="1.15"/>
<path d="M571.8 521.2V533M565.6 521.2H578M565.6 533H578" stroke="#111" stroke-width="1.2" fill="none"/>
<path d="M607.6 516.9V523.5M601.2 516.9H614M601.2 523.5H614" stroke="#111" stroke-width="1.2" fill="none"/>
<path d="M548.4 458.4V625.8H631.5" stroke="#222" stroke-width="1.3" fill="none"/>
<text x="542.9" y="464.6" font-size="16" text-anchor="end">800</text>
<text x="542.9" y="506.3" font-size="16" text-anchor="end">600</text>
<text x="542.9" y="548" font-size="16" text-anchor="end">400</text>
<text x="542.9" y="589.7" font-size="16" text-anchor="end">200</text>
<text x="541.3" y="631.4" font-size="16" text-anchor="end">0</text>
<path d="M543.4 459H548.4M543.4 500.7H548.4M543.4 542.4H548.4M543.4 584.1H548.4M543.4 625.8H548.4" stroke="#222" stroke-width="1.3" fill="none"/>
<circle cx="571.7" cy="502.3" r="3.4" fill="#fff" stroke="#111" stroke-width="1.15"/>
<circle cx="571.7" cy="507.5" r="3.4" fill="#fff" stroke="#111" stroke-width="1.15"/>
<circle cx="571.7" cy="539.1" r="3.4" fill="#fff" stroke="#111" stroke-width="1.15"/>
<circle cx="571.7" cy="531.5" r="3.4" fill="#fff" stroke="#111" stroke-width="1.15"/>
<circle cx="607.4" cy="511.6" r="3.7" fill="#000"/>
<circle cx="607.4" cy="514.6" r="3.7" fill="#000"/>
<circle cx="607.4" cy="518.5" r="3.7" fill="#000"/>
<circle cx="607.4" cy="523.3" r="3.7" fill="#000"/>
<circle cx="607.4" cy="529.1" r="3.7" fill="#000"/>
<text x="508.4" y="539.8" font-size="17" text-anchor="middle" transform="rotate(-90 508.4 539.8)" textLength="160.4" lengthAdjust="spacingAndGlyphs">Cumulative duration (s)</text>
<text x="550.47" y="647.2" font-size="15.2" textLength="85.08" lengthAdjust="spacingAndGlyphs">Closed arm</text>
<rect x="419.4" y="794.2" width="18.1" height="43.1" fill="#fff" stroke="#111" stroke-width="1.15"/>
<rect x="446.6" y="788.4" width="18.1" height="48.9" fill="#666666" stroke="#111" stroke-width="1.15"/>
<rect x="491.2" y="710.4" width="18.1" height="126.9" fill="#fff" stroke="#111" stroke-width="1.15"/>
<rect x="518.4" y="716.9" width="17.8" height="120.4" fill="#666666" stroke="#111" stroke-width="1.15"/>
<path d="M428.3 788.7V799.8M424 788.7H432.6M424 799.8H432.6" stroke="#111" stroke-width="1.2" fill="none"/>
<path d="M455.6 777.6V799M451.3 777.6H459.9M451.3 799H459.9" stroke="#111" stroke-width="1.2" fill="none"/>
<path d="M500 704.3V716.6M495.7 704.3H504.3M495.7 716.6H504.3" stroke="#111" stroke-width="1.2" fill="none"/>
<path d="M527.2 706V727.4M522.9 706H531.5M522.9 727.4H531.5" stroke="#111" stroke-width="1.2" fill="none"/>
<path d="M410.5 667.8V837.3H545.3" stroke="#222" stroke-width="1.3" fill="none"/>
<text x="404.2" y="675.5" font-size="16" text-anchor="end">600</text>
<text x="404.2" y="731.8" font-size="16" text-anchor="end">400</text>
<text x="404.2" y="788.1" font-size="16" text-anchor="end">200</text>
<text x="402.6" y="844.4" font-size="16" text-anchor="end">0</text>
<path d="M405.5 668.4H410.5M405.5 724.7H410.5M405.5 781H410.5M405.5 837.3H410.5" stroke="#222" stroke-width="1.3" fill="none"/>
<circle cx="428.2" cy="766.2" r="3.4" fill="#fff" stroke="#111" stroke-width="1.15"/>
<circle cx="428.2" cy="785.8" r="3.4" fill="#fff" stroke="#111" stroke-width="1.15"/>
<circle cx="428.2" cy="790.1" r="3.4" fill="#fff" stroke="#111" stroke-width="1.15"/>
<circle cx="428.2" cy="806.8" r="3.4" fill="#fff" stroke="#111" stroke-width="1.15"/>
<circle cx="428.2" cy="810.6" r="3.4" fill="#fff" stroke="#111" stroke-width="1.15"/>
<circle cx="500" cy="692.9" r="3.4" fill="#fff" stroke="#111" stroke-width="1.15"/>
<circle cx="500" cy="696.7" r="3.4" fill="#fff" stroke="#111" stroke-width="1.15"/>
<circle cx="500" cy="712.8" r="3.4" fill="#fff" stroke="#111" stroke-width="1.15"/>
<circle cx="500" cy="718.6" r="3.4" fill="#fff" stroke="#111" stroke-width="1.15"/>
<circle cx="500" cy="738.2" r="3.4" fill="#fff" stroke="#111" stroke-width="1.15"/>
<circle cx="455.6" cy="745.8" r="3.7" fill="#000"/>
<circle cx="455.6" cy="771.2" r="3.7" fill="#000"/>
<circle cx="455.6" cy="792.2" r="3.7" fill="#000"/>
<circle cx="455.6" cy="796" r="3.7" fill="#000"/>
<circle cx="455.6" cy="811.5" r="3.7" fill="#000"/>
<circle cx="455.6" cy="813.5" r="3.7" fill="#000"/>
<circle cx="527.2" cy="691.8" r="3.7" fill="#000"/>
<circle cx="527.2" cy="693.8" r="3.7" fill="#000"/>
<circle cx="527.2" cy="708.4" r="3.7" fill="#000"/>
<circle cx="527.2" cy="712.2" r="3.7" fill="#000"/>
<circle cx="527.2" cy="734.7" r="3.7" fill="#000"/>
<circle cx="527.2" cy="760.1" r="3.7" fill="#000"/>
<text x="368" y="749.65" font-size="17" text-anchor="middle" transform="rotate(-90 368 749.65)" textLength="160.1" lengthAdjust="spacingAndGlyphs">Cumulative duration (s)</text>
<text x="426.28" y="851" font-size="15.2" textLength="35.86" lengthAdjust="spacingAndGlyphs">Light</text>
<text x="501.61" y="851" font-size="15.2" textLength="34.01" lengthAdjust="spacingAndGlyphs">Dark</text>
<rect x="605.3" y="779.3" width="23.2" height="58.2" fill="#fff" stroke="#111" stroke-width="1.15"/>
<rect x="641.3" y="773.7" width="22.9" height="63.8" fill="#838383" stroke="#111" stroke-width="1.15"/>
<path d="M593.4 669.9V837.5H676.8" stroke="#222" stroke-width="1.3" fill="none"/>
<text x="586.5" y="676.2" font-size="16" text-anchor="end">50</text>
<text x="586.5" y="709.6" font-size="16" text-anchor="end">40</text>
<text x="586.5" y="743" font-size="16" text-anchor="end">30</text>
<text x="586.5" y="776.4" font-size="16" text-anchor="end">20</text>
<text x="586.5" y="809.8" font-size="16" text-anchor="end">10</text>
<text x="585.7" y="843.2" font-size="16" text-anchor="end">0</text>
<path d="M588.4 670.5H593.4M588.4 703.9H593.4M588.4 737.3H593.4M588.4 770.7H593.4M588.4 804.1H593.4M588.4 837.5H593.4" stroke="#222" stroke-width="1.3" fill="none"/>
<circle cx="616.8" cy="750.8" r="3.4" fill="#fff" stroke="#111" stroke-width="1.15"/>
<circle cx="616.8" cy="767.4" r="3.4" fill="#fff" stroke="#111" stroke-width="1.15"/>
<circle cx="616.8" cy="777.3" r="3.4" fill="#fff" stroke="#111" stroke-width="1.15"/>
<circle cx="616.8" cy="774" r="3.4" fill="#fff" stroke="#111" stroke-width="1.15"/>
<circle cx="616.8" cy="797.7" r="3.4" fill="#fff" stroke="#111" stroke-width="1.15"/>
<circle cx="616.8" cy="807.5" r="3.4" fill="#fff" stroke="#111" stroke-width="1.15"/>
<path d="M616.8 772V786.2M610.8 772H622.8M610.8 786.2H622.8" stroke="#111" stroke-width="1.2" fill="none"/>
<path d="M652.8 765.7V781.2M646.8 765.7H658.8M646.8 781.2H658.8" stroke="#111" stroke-width="1.2" fill="none"/>
<circle cx="652.8" cy="740.5" r="3.7" fill="#000"/>
<circle cx="652.8" cy="768.1" r="3.7" fill="#000"/>
<circle cx="652.8" cy="770.9" r="3.7" fill="#000"/>
<circle cx="652.8" cy="784.3" r="3.7" fill="#000"/>
<circle cx="652.8" cy="787.5" r="3.7" fill="#000"/>
<circle cx="652.8" cy="790.7" r="3.7" fill="#000"/>
<text x="561.3" y="750.3" font-size="17" text-anchor="middle" transform="rotate(-90 561.3 750.3)" textLength="111.4" lengthAdjust="spacingAndGlyphs">Zone alternation</text>
<rect x="420" y="954.3" width="18.8" height="125" fill="#fff" stroke="#111" stroke-width="1.15"/>
<rect x="448.3" y="955.6" width="18.9" height="123.7" fill="#838383" stroke="#111" stroke-width="1.15"/>
<path d="M410.4 912.7V1079.3H476.5" stroke="#222" stroke-width="1.3" fill="none"/>
<text x="403.5" y="918.5" font-size="16" text-anchor="end">300</text>
<text x="403.5" y="973.83" font-size="16" text-anchor="end">200</text>
<text x="403.5" y="1029.17" font-size="16" text-anchor="end">100</text>
<text x="401.9" y="1084.5" font-size="16" text-anchor="end">0</text>
<path d="M405.4 913.3H410.4M405.4 968.63H410.4M405.4 1023.97H410.4M405.4 1079.3H410.4" stroke="#222" stroke-width="1.3" fill="none"/>
<circle cx="429.2" cy="941.4" r="3.4" fill="#fff" stroke="#111" stroke-width="1.15"/>
<circle cx="429.2" cy="947.5" r="3.4" fill="#fff" stroke="#111" stroke-width="1.15"/>
<circle cx="429.2" cy="953.6" r="3.4" fill="#fff" stroke="#111" stroke-width="1.15"/>
<circle cx="429.2" cy="963" r="3.4" fill="#fff" stroke="#111" stroke-width="1.15"/>
<circle cx="429.2" cy="965.6" r="3.4" fill="#fff" stroke="#111" stroke-width="1.15"/>
<path d="M429.2 950.6V957.9M424.1 950.6H434.3M424.1 957.9H434.3" stroke="#111" stroke-width="1.2" fill="none"/>
<path d="M457.7 949.5V961M452.6 949.5H462.8M452.6 961H462.8" stroke="#111" stroke-width="1.2" fill="none"/>
<circle cx="457.7" cy="929.3" r="3.7" fill="#000"/>
<circle cx="457.7" cy="946.7" r="3.7" fill="#000"/>
<circle cx="457.7" cy="955.9" r="3.7" fill="#000"/>
<circle cx="457.7" cy="958.9" r="3.7" fill="#000"/>
<circle cx="457.7" cy="961.5" r="3.7" fill="#000"/>
<circle cx="457.7" cy="976.1" r="3.7" fill="#000"/>
<text x="374.1" y="988.8" font-size="17" text-anchor="middle" transform="rotate(-90 374.1 988.8)" textLength="131.2" lengthAdjust="spacingAndGlyphs">Immobility time (s)</text>
<text x="427.32" y="888.1" font-size="16" font-weight="bold" textLength="31.43" lengthAdjust="spacingAndGlyphs">FST</text>
<rect x="557.4" y="972.2" width="19" height="107.2" fill="#fff" stroke="#111" stroke-width="1.15"/>
<rect x="586.3" y="971.2" width="18.7" height="108.2" fill="#838383" stroke="#111" stroke-width="1.15"/>
<path d="M547.65 911.1V1079.4H614.8" stroke="#222" stroke-width="1.3" fill="none"/>
<text x="540.95" y="917.5" font-size="16" text-anchor="end">300</text>
<text x="540.95" y="973.4" font-size="16" text-anchor="end">200</text>
<text x="540.95" y="1029.3" font-size="16" text-anchor="end">100</text>
<text x="539.35" y="1085.2" font-size="16" text-anchor="end">0</text>
<path d="M542.65 911.7H547.65M542.65 967.6H547.65M542.65 1023.5H547.65M542.65 1079.4H547.65" stroke="#222" stroke-width="1.3" fill="none"/>
<circle cx="566.4" cy="956.1" r="3.4" fill="none" stroke="#111" stroke-width="1.15"/>
<circle cx="566.4" cy="964.7" r="3.4" fill="none" stroke="#111" stroke-width="1.15"/>
<circle cx="566.4" cy="967.3" r="3.4" fill="none" stroke="#111" stroke-width="1.15"/>
<circle cx="566.4" cy="971.4" r="3.4" fill="none" stroke="#111" stroke-width="1.15"/>
<circle cx="566.4" cy="979" r="3.4" fill="none" stroke="#111" stroke-width="1.15"/>
<circle cx="566.4" cy="983.1" r="3.4" fill="none" stroke="#111" stroke-width="1.15"/>
<circle cx="566.4" cy="987.2" r="3.4" fill="none" stroke="#111" stroke-width="1.15"/>
<path d="M566.5 968.5V976.5M561.1 968.5H571.9M561.1 976.5H571.9" stroke="#111" stroke-width="1.2" fill="none"/>
<path d="M595.3 965.3V977.2M590.2 965.3H600.4M590.2 977.2H600.4" stroke="#111" stroke-width="1.2" fill="none"/>
<circle cx="595.3" cy="954" r="3.7" fill="#000"/>
<circle cx="595.3" cy="957.1" r="3.7" fill="#000"/>
<circle cx="595.3" cy="965.3" r="3.7" fill="#000"/>
<circle cx="595.3" cy="968.3" r="3.7" fill="#000"/>
<circle cx="595.3" cy="985.2" r="3.7" fill="#000"/>
<circle cx="595.3" cy="999" r="3.7" fill="#000"/>
<text x="512.4" y="988.8" font-size="17" text-anchor="middle" transform="rotate(-90 512.4 988.8)" textLength="131.2" lengthAdjust="spacingAndGlyphs">Immobility time (s)</text>
<text x="572.94" y="888.1" font-size="16" font-weight="bold" textLength="29.69" lengthAdjust="spacingAndGlyphs">TST</text>
</svg>
</body></html>
